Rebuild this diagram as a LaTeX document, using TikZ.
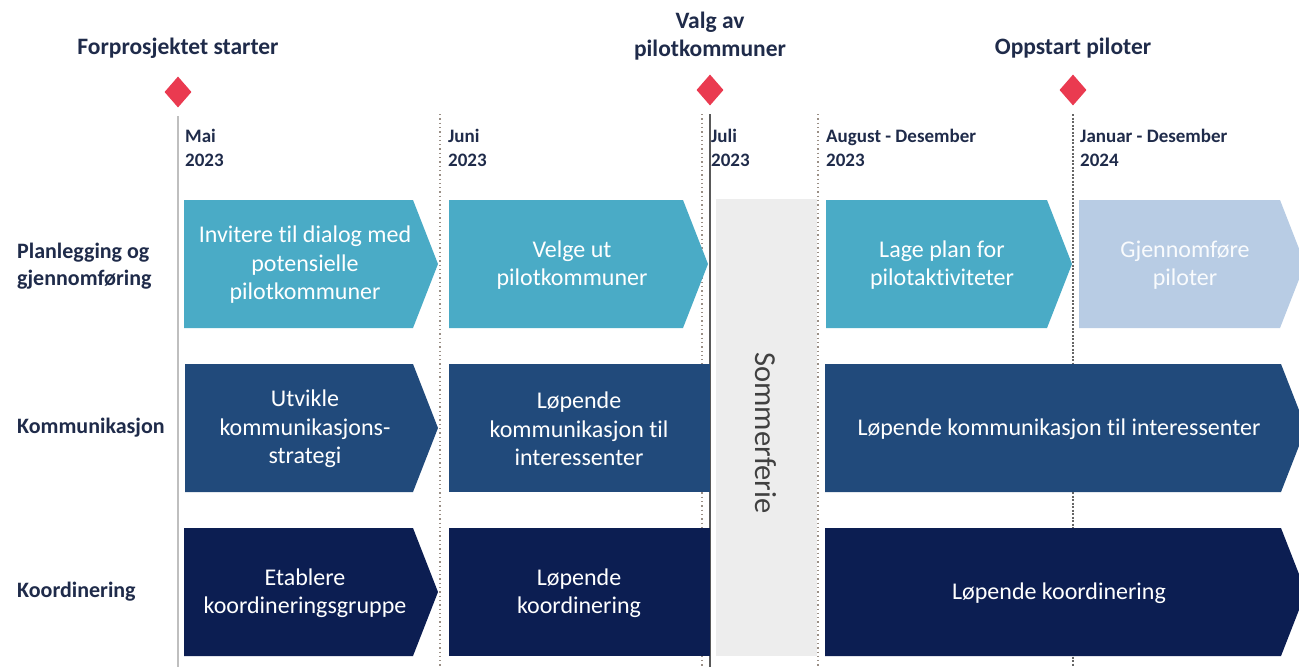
\documentclass[tikz,border=0pt]{standalone}
\usepackage{fontspec}
\setmainfont{Carlito}[Ligatures=NoCommon]
\usetikzlibrary{shapes.geometric}
\definecolor{cteal}{HTML}{4AABC6}
\definecolor{cmid}{HTML}{214A7B}
\definecolor{cnavy}{HTML}{0C1E52}
\definecolor{clight}{HTML}{B8CCE4}
\definecolor{cgrey}{HTML}{EDEDED}
\definecolor{clabel}{HTML}{1F2B4A}
\definecolor{cred}{HTML}{EA3A50}
\definecolor{cdot}{HTML}{9A8F86}
\begin{document}
\begin{tikzpicture}[x=1pt,y=-1pt,
  boxtext/.style={text=white,align=center,font=\fontsize{24}{28.5}\selectfont,inner sep=0pt},
  mslabel/.style={text=clabel,align=center,font=\bfseries\fontsize{23.5}{28}\selectfont,inner sep=0pt},
  monthlabel/.style={text=clabel,align=left,anchor=west,font=\bfseries\fontsize{19}{24}\selectfont,inner sep=0pt},
  rowlabel/.style={text=clabel,align=left,anchor=west,font=\bfseries\fontsize{22}{27}\selectfont,inner sep=0pt},
  milestone/.style={diamond,fill=cred,inner sep=0pt,minimum width=27pt,minimum height=31pt},
  dotline/.style={cdot,line width=1.3pt,dash pattern=on 1.3pt off 3pt},
]
\useasboundingbox (0,0) rectangle (1299,667);
\fill[white] (0,0) rectangle (1299,667);

% vertical time lines
\coordinate (mT) at (178,116); \coordinate (mB) at (178,667);
\coordinate (jT) at (440,114); \coordinate (jB) at (440,667);
\coordinate (juT) at (702,114); \coordinate (juB) at (702,667);
\coordinate (jsT) at (710,114); \coordinate (jsB) at (710,667);
\coordinate (aT) at (818,114); \coordinate (aB) at (818,667);
\coordinate (nT) at (1073,114); \coordinate (nB) at (1073,667);
\draw[line width=1.6pt,color=black!25] (mT) -- (mB);
\draw[dotline] (jT) -- (jB);
\draw[dotline] (juT) -- (juB);
\draw[line width=1.2pt,color=black!65] (jsT) -- (jsB);
\draw[dotline] (aT) -- (aB);
\draw[line width=1.3pt,color=black!60,dash pattern=on 2pt off 1.5pt] (nT) -- (nB);

% milestones
\node[milestone] (d1) at (178,92) {};
\node[milestone] (d2) at (710,90) {};
\node[milestone] (d3) at (1073,90) {};
\node[mslabel] (m1) at (178,48) {Forprosjektet starter};
\node[mslabel] (m2) at (710,36) {Valg av\\pilotkommuner};
\node[mslabel] (m3) at (1073,48) {Oppstart piloter};

% month labels
\node[monthlabel] (t1) at (185,148) {Mai\\2023};
\node[monthlabel] (t2) at (448,148) {Juni\\2023};
\node[monthlabel] (t3) at (711,148) {Juli\\2023};
\node[monthlabel] (t4) at (826,148) {August - Desember\\2023};
\node[monthlabel] (t5) at (1080,148) {Januar - Desember\\2024};

% row labels
\node[rowlabel] (r1) at (17,266) {Planlegging og\\gjennomføring};
\node[rowlabel] (r2) at (17,428) {Kommunikasjon};
\node[rowlabel] (r3) at (17,592) {Koordinering};

% summer break
\fill[cgrey] (716,199) rectangle (817,656);
\node[rotate=-90,text=black!75,font=\fontsize{30.5}{34}\selectfont,inner sep=0pt] (sf) at (766,433) {Sommerferie};

% row 1
\fill[cteal] (184,200) -- (413,200) -- (438,264) -- (413,328) -- (184,328) -- cycle;
\node[boxtext] (a1) at (305,265) {Invitere til dialog med\\potensielle\\pilotkommuner};
\fill[cteal] (449,200) -- (683,200) -- (708,264) -- (683,328) -- (449,328) -- cycle;
\node[boxtext] (a2) at (572,265) {Velge ut\\pilotkommuner};
\fill[cteal] (826,200) -- (1047,200) -- (1072,264) -- (1047,328) -- (826,328) -- cycle;
\node[boxtext] (a3) at (942,265) {Lage plan for\\pilotaktiviteter};
\fill[clight] (1079,200) -- (1280,200) -- (1305,264) -- (1280,328) -- (1079,328) -- cycle;
\node[boxtext,text=white!92!clight] (a4) at (1185,265) {Gjennomføre\\piloter};

% row 2
\fill[cmid] (185,364) -- (413,364) -- (438,428) -- (413,492) -- (185,492) -- cycle;
\node[boxtext] (b1) at (305,429) {Utvikle\\kommunikasjons-\\strategi};
\fill[cmid] (449,364) rectangle (710,492);
\node[boxtext] (b2) at (579,429) {Løpende\\kommunikasjon til\\interessenter};
\fill[cmid] (825,364) -- (1281,364) -- (1306,428) -- (1281,492) -- (825,492) -- cycle;
\node[boxtext] (b3) at (1059,429) {Løpende kommunikasjon til interessenter};

% row 3
\fill[cnavy] (184,528) -- (413,528) -- (438,592) -- (413,656) -- (184,656) -- cycle;
\node[boxtext] (c1) at (305,593) {Etablere\\koordineringsgruppe};
\fill[cnavy] (449,528) rectangle (710,656);
\node[boxtext] (c2) at (579,593) {Løpende\\koordinering};
\fill[cnavy] (825,528) -- (1281,528) -- (1306,592) -- (1281,656) -- (825,656) -- cycle;
\node[boxtext] (c3) at (1059,593) {Løpende koordinering};
\end{tikzpicture}
\end{document}
